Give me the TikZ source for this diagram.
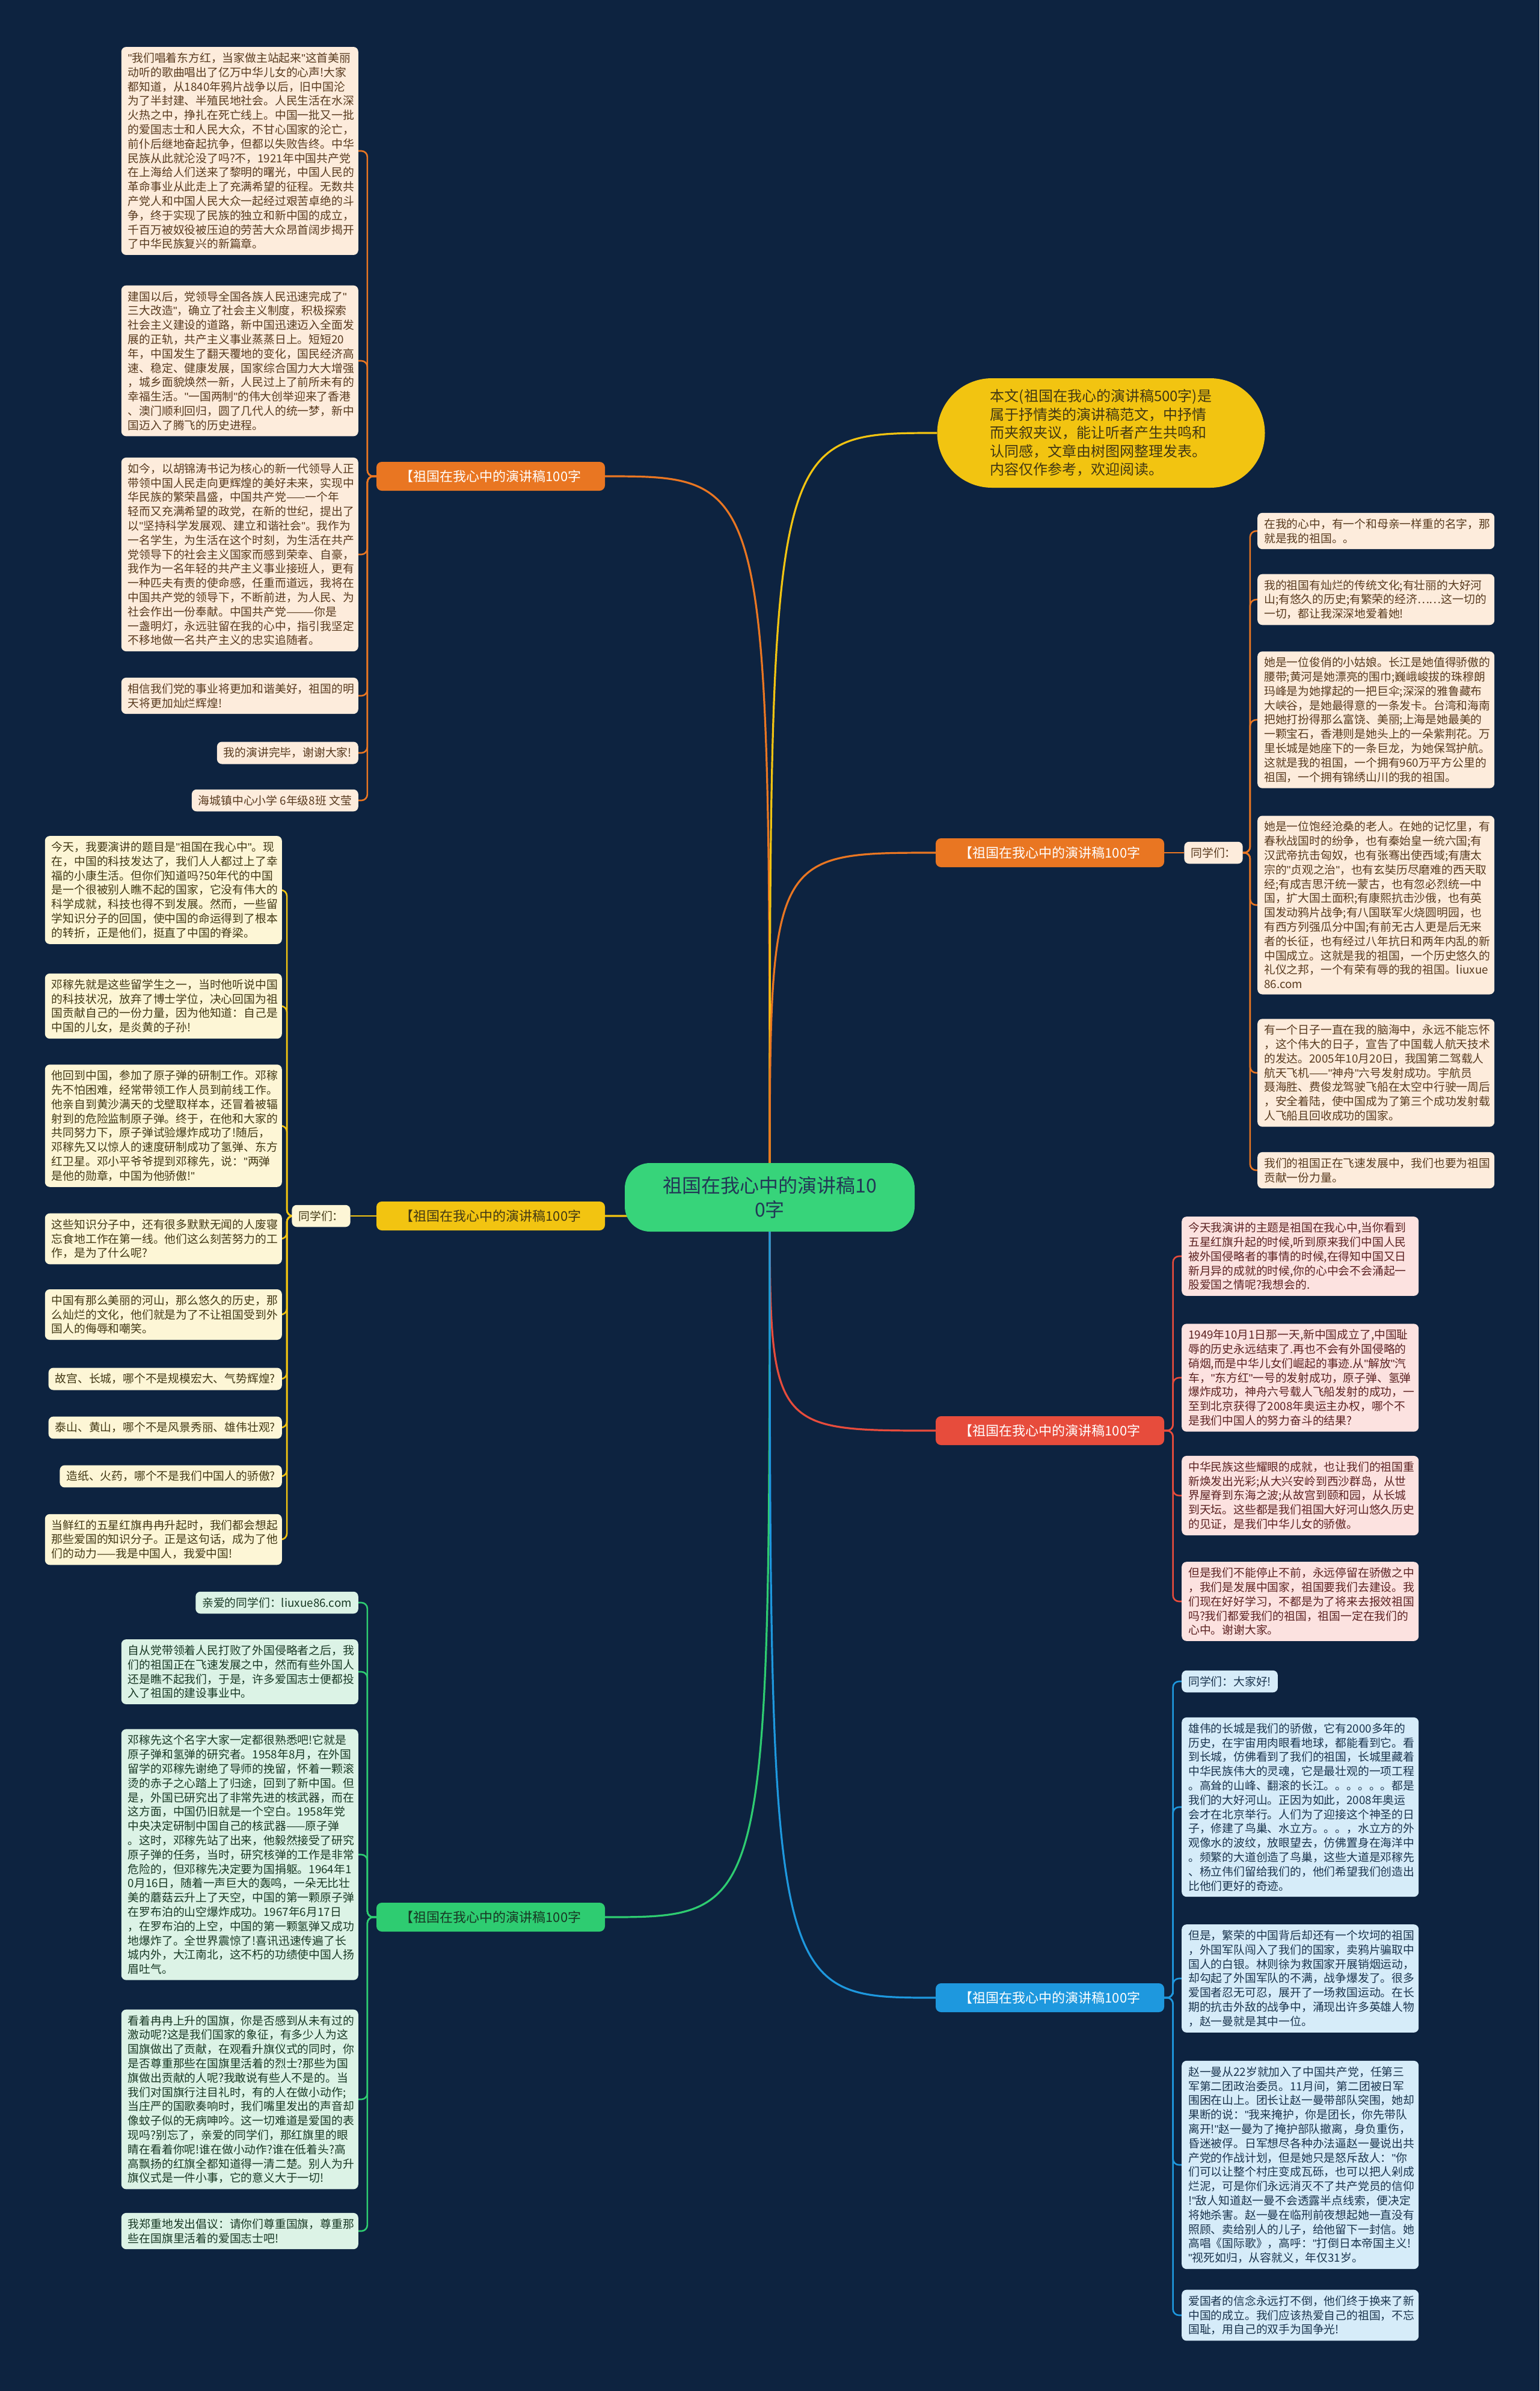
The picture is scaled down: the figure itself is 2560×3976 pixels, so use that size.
\documentclass[tikz,border=0pt]{standalone}
\usepackage{fontspec}
\setmainfont{Noto Sans CJK SC}
\newfontfamily\asciifont{Liberation Sans}
\newcommand{\qt}{{\asciifont"}}
\usetikzlibrary{positioning, calc, backgrounds}
\definecolor{MapNavy}{RGB}{13, 35, 64}
\definecolor{MapOrange}{RGB}{233, 118, 34}
\definecolor{MapYellow}{RGB}{242, 196, 17}
\definecolor{MapGreen}{RGB}{46, 204, 113}
\definecolor{MapRed}{RGB}{231, 76, 60}
\definecolor{MapBlue}{RGB}{30, 152, 222}
\definecolor{MapRoot}{RGB}{55, 212, 122}
\definecolor{PeachBg}{RGB}{253, 236, 220}
\definecolor{CreamBg}{RGB}{253, 246, 214}
\definecolor{MintBg}{RGB}{220, 243, 230}
\definecolor{PinkBg}{RGB}{252, 226, 224}
\definecolor{SkyBg}{RGB}{214, 236, 249}
\definecolor{InkBrown}{RGB}{88, 58, 30}
\definecolor{InkOlive}{RGB}{66, 56, 20}
\definecolor{InkGreen}{RGB}{24, 56, 36}
\definecolor{InkRed}{RGB}{92, 34, 34}
\definecolor{InkBlue}{RGB}{26, 52, 78}
\definecolor{InkRoot}{RGB}{34, 56, 86}
\newcommand{\leafsize}{\fontsize{18.8}{23.8}\selectfont}
\tikzset{
  card/.style={rectangle, rounded corners=8pt, inner xsep=11pt, inner ysep=9.5pt,
    align=left, font=\leafsize},
  para/.style={card, text width=372pt},
  branch/.style={rectangle, rounded corners=9pt, minimum width=380pt, minimum height=48pt,
    inner sep=4pt, font=\fontsize{22}{26}\selectfont},
  root/.style={rectangle, rounded corners=42pt, fill=MapRoot, text=InkRoot, minimum width=482pt,
    minimum height=114pt, align=center, font=\fontsize{32}{40}\selectfont},
  intro/.style={rectangle, rounded corners=91pt, fill=MapYellow, text=InkOlive, minimum width=545pt,
    minimum height=182pt, align=left, font=\fontsize{24}{30.5}\selectfont},
  orgcard/.style={card, fill=PeachBg, text=InkBrown}, orgpara/.style={para, fill=PeachBg, text=InkBrown},
  ylwcard/.style={card, fill=CreamBg, text=InkOlive}, ylwpara/.style={para, fill=CreamBg, text=InkOlive},
  grncard/.style={card, fill=MintBg, text=InkGreen}, grnpara/.style={para, fill=MintBg, text=InkGreen},
  redpara/.style={para, fill=PinkBg, text=InkRed},
  blucard/.style={card, fill=SkyBg, text=InkBlue}, blupara/.style={para, fill=SkyBg, text=InkBlue},
  limb/.style={line width=3.2pt},
  twig/.style={line width=2.6pt, rounded corners=10pt,
    to path={(\tikztostart) -| ($(\tikztostart)!0.5!(\tikztotarget)$) |- (\tikztotarget)}},
}

\begin{document}
\begin{tikzpicture}[x=1pt, y=-1pt]
  \useasboundingbox (0,0) rectangle (2560,3976);
  \node[root] (root) at (1280,1991) {祖国在我心中的演讲稿10\\0字};
  \node[intro] (intro) at (1831,720) {本文(祖国在我心的演讲稿500字)是\\属于抒情类的演讲稿范文，中抒情\\而夹叙夹议，能让听者产生共鸣和\\认同感，文章由树图网整理发表。\\内容仅作参考，欢迎阅读。};

  \node[branch, fill=MapOrange, text=white] (tl) at (816,792) {【祖国在我心中的演讲稿100字};
  \node[branch, fill=MapYellow, text=InkOlive] (lm) at (816,2022) {【祖国在我心中的演讲稿100字};
  \node[branch, fill=MapGreen, text=InkGreen] (ll) at (816,3188) {【祖国在我心中的演讲稿100字};
  \node[branch, fill=MapOrange, text=white] (ro) at (1746,1418) {【祖国在我心中的演讲稿100字};
  \node[branch, fill=MapRed, text=white] (rr) at (1746,2379) {【祖国在我心中的演讲稿100字};
  \node[branch, fill=MapBlue, text=white] (rb) at (1746,3322) {【祖国在我心中的演讲稿100字};
  \node[ylwcard, left=43pt of lm] (lmhi) {同学们：};
  \node[orgcard, right=33pt of ro] (rohi) {同学们：};

  \node[orgpara, anchor=east] (tl1) at (596,251) {\qt{}我们唱着东方红，当家做主站起来\qt{}这首美丽\\动听的歌曲唱出了亿万中华儿女的心声!大家\\都知道，从1840年鸦片战争以后，旧中国沦\\为了半封建、半殖民地社会。人民生活在水深\\火热之中，挣扎在死亡线上。中国一批又一批\\的爱国志士和人民大众，不甘心国家的沦亡，\\前仆后继地奋起抗争，但都以失败告终。中华\\民族从此就沦没了吗?不，1921年中国共产党\\在上海给人们送来了黎明的曙光，中国人民的\\革命事业从此走上了充满希望的征程。无数共\\产党人和中国人民大众一起经过艰苦卓绝的斗\\争，终于实现了民族的独立和新中国的成立，\\千百万被奴役被压迫的劳苦大众昂首阔步揭开\\了中华民族复兴的新篇章。};
  \node[orgpara, anchor=east] (tl2) at (596,600) {建国以后，党领导全国各族人民迅速完成了\qt{}\\三大改造\qt{}，确立了社会主义制度，积极探索\\社会主义建设的道路，新中国迅速迈入全面发\\展的正轨，共产主义事业蒸蒸日上。短短20\\年，中国发生了翻天覆地的变化，国民经济高\\速、稳定、健康发展，国家综合国力大大增强\\，城乡面貌焕然一新，人民过上了前所未有的\\幸福生活。\qt{}一国两制\qt{}的伟大创举迎来了香港\\、澳门顺利回归，圆了几代人的统一梦，新中\\国迈入了腾飞的历史进程。};
  \node[orgpara, anchor=east] (tl3) at (596,922) {如今，以胡锦涛书记为核心的新一代领导人正\\带领中国人民走向更辉煌的美好未来，实现中\\华民族的繁荣昌盛，中国共产党——一个年\\轻而又充满希望的政党，在新的世纪，提出了\\以\qt{}坚持科学发展观、建立和谐社会\qt{}。我作为\\一名学生，为生活在这个时刻，为生活在共产\\党领导下的社会主义国家而感到荣幸、自豪，\\我作为一名年轻的共产主义事业接班人，更有\\一种匹夫有责的使命感，任重而道远，我将在\\中国共产党的领导下，不断前进，为人民、为\\社会作出一份奉献。中国共产党———你是\\一盏明灯，永远驻留在我的心中，指引我坚定\\不移地做一名共产主义的忠实追随者。};
  \node[orgpara, anchor=east] (tl4) at (596,1157) {相信我们党的事业将更加和谐美好，祖国的明\\天将更加灿烂辉煌!};
  \node[orgcard, anchor=east] (tl5) at (596,1252) {我的演讲完毕，谢谢大家!};
  \node[orgcard, anchor=east] (tl6) at (596,1331) {海城镇中心小学 6年级8班 文莹};

  \node[ylwpara, anchor=east] (lm1) at (469,1480) {今天，我要演讲的题目是\qt{}祖国在我心中\qt{}。现\\在，中国的科技发达了，我们人人都过上了幸\\福的小康生活。但你们知道吗?50年代的中国\\是一个很被别人瞧不起的国家，它没有伟大的\\科学成就，科技也得不到发展。然而，一些留\\学知识分子的回国，使中国的命运得到了根本\\的转折，正是他们，挺直了中国的脊梁。};
  \node[ylwpara, anchor=east] (lm2) at (469,1673) {邓稼先就是这些留学生之一，当时他听说中国\\的科技状况，放弃了博士学位，决心回国为祖\\国贡献自己的一份力量，因为他知道：自己是\\中国的儿女，是炎黄的子孙!};
  \node[ylwpara, anchor=east] (lm3) at (469,1872) {他回到中国，参加了原子弹的研制工作。邓稼\\先不怕困难，经常带领工作人员到前线工作。\\他亲自到黄沙满天的戈壁取样本，还冒着被辐\\射到的危险监制原子弹。终于，在他和大家的\\共同努力下，原子弹试验爆炸成功了!随后，\\邓稼先又以惊人的速度研制成功了氢弹、东方\\红卫星。邓小平爷爷提到邓稼先，说：\qt{}两弹\\是他的勋章，中国为他骄傲!\qt{}};
  \node[ylwpara, anchor=east] (lm4) at (469,2060) {这些知识分子中，还有很多默默无闻的人废寝\\忘食地工作在第一线。他们这么刻苦努力的工\\作，是为了什么呢?};
  \node[ylwpara, anchor=east] (lm5) at (469,2186) {中国有那么美丽的河山，那么悠久的历史，那\\么灿烂的文化，他们就是为了不让祖国受到外\\国人的侮辱和嘲笑。};
  \node[ylwcard, anchor=east] (lm6) at (469,2293) {故宫、长城，哪个不是规模宏大、气势辉煌?};
  \node[ylwcard, anchor=east] (lm7) at (469,2374) {泰山、黄山，哪个不是风景秀丽、雄伟壮观?};
  \node[ylwcard, anchor=east] (lm8) at (469,2455) {造纸、火药，哪个不是我们中国人的骄傲?};
  \node[ylwpara, anchor=east] (lm9) at (469,2560) {当鲜红的五星红旗冉冉升起时，我们都会想起\\那些爱国的知识分子。正是这句话，成为了他\\们的动力——我是中国人，我爱中国!};

  \node[grncard, anchor=east] (ll0) at (596,2665) {亲爱的同学们：liuxue86.com};
  \node[grnpara, anchor=east] (ll1) at (596,2780) {自从党带领着人民打败了外国侵略者之后，我\\们的祖国正在飞速发展之中，然而有些外国人\\还是瞧不起我们，于是，许多爱国志士便都投\\入了祖国的建设事业中。};
  \node[grnpara, anchor=east] (ll2) at (596,3084) {邓稼先这个名字大家一定都很熟悉吧!它就是\\原子弹和氢弹的研究者。1958年8月，在外国\\留学的邓稼先谢绝了导师的挽留，怀着一颗滚\\烫的赤子之心踏上了归途，回到了新中国。但\\是，外国已研究出了非常先进的核武器，而在\\这方面，中国仍旧就是一个空白。1958年党\\中央决定研制中国自己的核武器——原子弹\\。这时，邓稼先站了出来，他毅然接受了研究\\原子弹的任务，当时，研究核弹的工作是非常\\危险的，但邓稼先决定要为国捐躯。1964年1\\0月16日，随着一声巨大的轰鸣，一朵无比壮\\美的蘑菇云升上了天空，中国的第一颗原子弹\\在罗布泊的山空爆炸成功。1967年6月17日\\，在罗布泊的上空，中国的第一颗氢弹又成功\\地爆炸了。全世界震惊了!喜讯迅速传遍了长\\城内外，大江南北，这不朽的功绩使中国人扬\\眉吐气。};
  \node[grnpara, anchor=east] (ll3) at (596,3491) {看着冉冉上升的国旗，你是否感到从未有过的\\激动呢?这是我们国家的象征，有多少人为这\\国旗做出了贡献，在观看升旗仪式的同时，你\\是否尊重那些在国旗里活着的烈士?那些为国\\旗做出贡献的人呢?我敢说有些人不是的。当\\我们对国旗行注目礼时，有的人在做小动作;\\当庄严的国歌奏响时，我们嘴里发出的声音却\\像蚊子似的无病呻吟。这一切难道是爱国的表\\现吗?别忘了，亲爱的同学们，那红旗里的眼\\睛在看着你呢!谁在做小动作?谁在低着头?高\\高飘扬的红旗全都知道得一清二楚。别人为升\\旗仪式是一件小事，它的意义大于一切!};
  \node[grnpara, anchor=east] (ll4) at (596,3710) {我郑重地发出倡议：请你们尊重国旗，尊重那\\些在国旗里活着的爱国志士吧!};

  \node[orgpara, anchor=west] (ro1) at (2091,883) {在我的心中，有一个和母亲一样重的名字，那\\就是我的祖国。。};
  \node[orgpara, anchor=west] (ro2) at (2091,997) {我的祖国有灿烂的传统文化;有壮丽的大好河\\山;有悠久的历史;有繁荣的经济……这一切的\\一切，都让我深深地爱着她!};
  \node[orgpara, anchor=west] (ro3) at (2091,1197) {她是一位俊俏的小姑娘。长江是她值得骄傲的\\腰带;黄河是她漂亮的围巾;巍峨峻拔的珠穆朗\\玛峰是为她撑起的一把巨伞;深深的雅鲁藏布\\大峡谷，是她最得意的一条发卡。台湾和海南\\把她打扮得那么富饶、美丽;上海是她最美的\\一颗宝石，香港则是她头上的一朵紫荆花。万\\里长城是她座下的一条巨龙，为她保驾护航。\\这就是我的祖国，一个拥有960万平方公里的\\祖国，一个拥有锦绣山川的我的祖国。};
  \node[orgpara, anchor=west] (ro4) at (2091,1505) {她是一位饱经沧桑的老人。在她的记忆里，有\\春秋战国时的纷争，也有秦始皇一统六国;有\\汉武帝抗击匈奴，也有张骞出使西域;有唐太\\宗的\qt{}贞观之治\qt{}，也有玄奘历尽磨难的西天取\\经;有成吉思汗统一蒙古，也有忽必烈统一中\\国，扩大国土面积;有康熙抗击沙俄，也有英\\国发动鸦片战争;有八国联军火烧圆明园，也\\有西方列强瓜分中国;有前无古人更是后无来\\者的长征，也有经过八年抗日和两年内乱的新\\中国成立。这就是我的祖国，一个历史悠久的\\礼仪之邦，一个有荣有辱的我的祖国。liuxue\\86.com};
  \node[orgpara, anchor=west] (ro5) at (2091,1784) {有一个日子一直在我的脑海中，永远不能忘怀\\，这个伟大的日子，宣告了中国载人航天技术\\的发达。2005年10月20日，我国第二驾载人\\航天飞机——\qt{}神舟\qt{}六号发射成功。宇航员\\聂海胜、费俊龙驾驶飞船在太空中行驶一周后\\，安全着陆，使中国成为了第三个成功发射载\\人飞船且回收成功的国家。};
  \node[orgpara, anchor=west] (ro6) at (2091,1946) {我们的祖国正在飞速发展中，我们也要为祖国\\贡献一份力量。};

  \node[redpara, anchor=west] (rr1) at (1965,2089) {今天我演讲的主题是祖国在我心中,当你看到\\五星红旗升起的时候,听到原来我们中国人民\\被外国侵略者的事情的时候,在得知中国又日\\新月异的成就的时候,你的心中会不会涌起一\\股爱国之情呢?我想会的.};
  \node[redpara, anchor=west] (rr2) at (1965,2291) {1949年10月1日那一天,新中国成立了,中国耻\\辱的历史永远结束了.再也不会有外国侵略的\\硝烟,而是中华儿女们崛起的事迹.从\qt{}解放\qt{}汽\\车，\qt{}东方红\qt{}一号的发射成功，原子弹、氢弹\\爆炸成功，神舟六号载人飞船发射的成功，一\\至到北京获得了2008年奥运主办权，哪个不\\是我们中国人的努力奋斗的结果?};
  \node[redpara, anchor=west] (rr3) at (1965,2487) {中华民族这些耀眼的成就，也让我们的祖国重\\新焕发出光彩;从大兴安岭到西沙群岛，从世\\界屋脊到东海之波;从故宫到颐和园，从长城\\到天坛。这些都是我们祖国大好河山悠久历史\\的见证，是我们中华儿女的骄傲。};
  \node[redpara, anchor=west] (rr4) at (1965,2663) {但是我们不能停止不前，永远停留在骄傲之中\\，我们是发展中国家，祖国要我们去建设。我\\们现在好好学习，不都是为了将来去报效祖国\\吗?我们都爱我们的祖国，祖国一定在我们的\\心中。谢谢大家。};

  \node[blucard, anchor=west] (rb0) at (1965,2796) {同学们：大家好!};
  \node[blupara, anchor=west] (rb1) at (1965,3005) {雄伟的长城是我们的骄傲，它有2000多年的\\历史，在宇宙用肉眼看地球，都能看到它。看\\到长城，仿佛看到了我们的祖国，长城里藏着\\中华民族伟大的灵魂，它是最壮观的一项工程\\。高耸的山峰、翻滚的长江。。。。。。都是\\我们的大好河山。正因为如此，2008年奥运\\会才在北京举行。人们为了迎接这个神圣的日\\子，修建了鸟巢、水立方。。。，水立方的外\\观像水的波纹，放眼望去，仿佛置身在海洋中\\。频繁的大道创造了鸟巢，这些大道是邓稼先\\、杨立伟们留给我们的，他们希望我们创造出\\比他们更好的奇迹。};
  \node[blupara, anchor=west] (rb2) at (1965,3290) {但是，繁荣的中国背后却还有一个坎坷的祖国\\，外国军队闯入了我们的国家，卖鸦片骗取中\\国人的白银。林则徐为救国家开展销烟运动，\\却勾起了外国军队的不满，战争爆发了。很多\\爱国者忍无可忍，展开了一场救国运动。在长\\期的抗击外敌的战争中，涌现出许多英雄人物\\，赵一曼就是其中一位。};
  \node[blupara, anchor=west] (rb3) at (1965,3600) {赵一曼从22岁就加入了中国共产党，任第三\\军第二团政治委员。11月间，第二团被日军\\围困在山上。团长让赵一曼带部队突围，她却\\果断的说：\qt{}我来掩护，你是团长，你先带队\\离开!\qt{}赵一曼为了掩护部队撤离，身负重伤，\\昏迷被俘。日军想尽各种办法逼赵一曼说出共\\产党的作战计划，但是她只是怒斥敌人：\qt{}你\\们可以让整个村庄变成瓦砾，也可以把人剁成\\烂泥，可是你们永远消灭不了共产党员的信仰\\!\qt{}敌人知道赵一曼不会透露半点线索，便决定\\将她杀害。赵一曼在临刑前夜想起她一直没有\\照顾、卖给别人的儿子，给他留下一封信。她\\高唱《国际歌》，高呼：\qt{}打倒日本帝国主义!\\\qt{}视死如归，从容就义，年仅31岁。};
  \node[blupara, anchor=west] (rb4) at (1965,3850) {爱国者的信念永远打不倒，他们终于换来了新\\中国的成立。我们应该热爱自己的祖国，不忘\\国耻，用自己的双手为国争光!};

  \begin{scope}[on background layer]
    \fill[MapNavy] (0,0) rectangle (2560,3976);
    \draw[limb, MapOrange] (root.center) .. controls (root.center |- tl.east) .. (tl.east);
    \draw[limb, MapYellow] (root.center) .. controls (root.center |- lm.east) .. (lm.east);
    \draw[limb, MapGreen] (root.center) .. controls (root.center |- ll.east) .. (ll.east);
    \draw[limb, MapYellow] (root.center) .. controls (root.center |- intro.west) .. (intro.west);
    \draw[limb, MapOrange] (root.center) .. controls (root.center |- ro.west) .. (ro.west);
    \draw[limb, MapRed] (root.center) .. controls (root.center |- rr.west) .. (rr.west);
    \draw[limb, MapBlue] (root.center) .. controls (root.center |- rb.west) .. (rb.west);
    \draw[twig, MapOrange] (tl.west) to (tl1.east); \draw[twig, MapOrange] (tl.west) to (tl2.east);
    \draw[twig, MapOrange] (tl.west) to (tl3.east); \draw[twig, MapOrange] (tl.west) to (tl4.east);
    \draw[twig, MapOrange] (tl.west) to (tl5.east); \draw[twig, MapOrange] (tl.west) to (tl6.east);
    \draw[twig, MapYellow] (lm.west) -- (lmhi.east);
    \draw[twig, MapYellow] (lmhi.west) to (lm1.east); \draw[twig, MapYellow] (lmhi.west) to (lm2.east);
    \draw[twig, MapYellow] (lmhi.west) to (lm3.east); \draw[twig, MapYellow] (lmhi.west) to (lm4.east);
    \draw[twig, MapYellow] (lmhi.west) to (lm5.east); \draw[twig, MapYellow] (lmhi.west) to (lm6.east);
    \draw[twig, MapYellow] (lmhi.west) to (lm7.east); \draw[twig, MapYellow] (lmhi.west) to (lm8.east);
    \draw[twig, MapYellow] (lmhi.west) to (lm9.east);
    \draw[twig, MapGreen] (ll.west) to (ll0.east); \draw[twig, MapGreen] (ll.west) to (ll1.east);
    \draw[twig, MapGreen] (ll.west) to (ll2.east); \draw[twig, MapGreen] (ll.west) to (ll3.east);
    \draw[twig, MapGreen] (ll.west) to (ll4.east);
    \draw[twig, MapOrange] (ro.east) -- (rohi.west);
    \draw[twig, MapOrange] (rohi.east) to (ro1.west); \draw[twig, MapOrange] (rohi.east) to (ro2.west);
    \draw[twig, MapOrange] (rohi.east) to (ro3.west); \draw[twig, MapOrange] (rohi.east) to (ro4.west);
    \draw[twig, MapOrange] (rohi.east) to (ro5.west); \draw[twig, MapOrange] (rohi.east) to (ro6.west);
    \draw[twig, MapRed] (rr.east) to (rr1.west); \draw[twig, MapRed] (rr.east) to (rr2.west);
    \draw[twig, MapRed] (rr.east) to (rr3.west); \draw[twig, MapRed] (rr.east) to (rr4.west);
    \draw[twig, MapBlue] (rb.east) to (rb0.west); \draw[twig, MapBlue] (rb.east) to (rb1.west);
    \draw[twig, MapBlue] (rb.east) to (rb2.west); \draw[twig, MapBlue] (rb.east) to (rb3.west);
    \draw[twig, MapBlue] (rb.east) to (rb4.west);
  \end{scope}
\end{tikzpicture}
\end{document}
